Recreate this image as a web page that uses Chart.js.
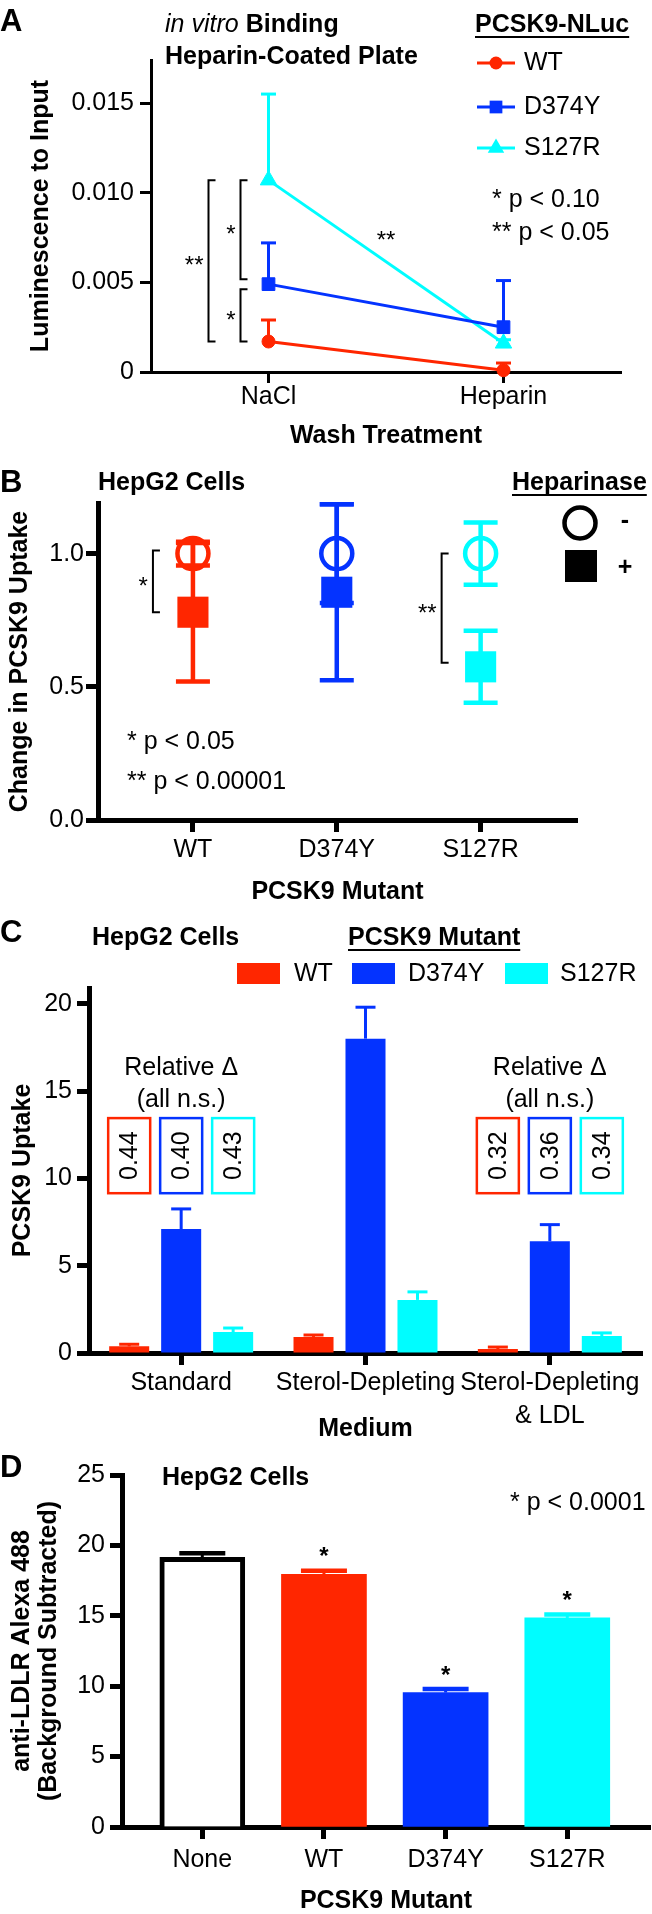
<!DOCTYPE html>
<html>
<head>
<meta charset="utf-8">
<script src="https://cdn.jsdelivr.net/npm/chart.js@4.4.1/dist/chart.umd.min.js"></script>
<style>
  body { margin: 0; background: #fff; }
  #wrap { position: relative; width: 652px; height: 1914px; }
  canvas { position: absolute; left: 0; }
</style>
</head>
<body>
<div id="wrap">
  <canvas id="cA" width="652" height="460" style="top:0px"></canvas>
  <canvas id="cB" width="652" height="455" style="top:460px"></canvas>
  <canvas id="cC" width="652" height="535" style="top:915px"></canvas>
  <canvas id="cD" width="652" height="464" style="top:1450px"></canvas>
</div>
<script>
// ---- data: panel A (in vitro binding)
const washTreatments = ['NaCl', 'Heparin'];
const mutants = ['WT', 'D374Y', 'S127R'];
const bindingWT = [0.0017, 0.0001];
const bindingD374Y = [0.0049, 0.0025];
const bindingS127R = [0.0107, 0.0016];
const bindingWTErr = [0.0012, 0.0004];
const bindingD374YErr = [0.0023, 0.0026];
const bindingS127RErr = [0.0048, 0.0002];
const bindingTicks = [0, 0.005, 0.010, 0.015];

// ---- data: panel B (heparinase)
const uptakeMinus = [1.0, 1.0, 1.0];
const uptakeMinusErr = [0.045, 0.185, 0.117];
const uptakePlus = [0.78, 0.855, 0.575];
const uptakePlusErr = [0.26, 0.33, 0.135];
const uptakeTicks = [0, 0.5, 1.0];

// ---- data: panel C (medium)
const media = ['Standard', 'Sterol-Depleting', ['Sterol-Depleting', '& LDL']];
const mediumWT = [0.38, 0.92, 0.23];
const mediumD374Y = [7.1, 18.0, 6.4];
const mediumS127R = [1.2, 3.04, 0.97];
const mediumWTErr = [0.12, 0.11, 0.11];
const mediumD374YErr = [1.15, 1.8, 0.95];
const mediumS127RErr = [0.23, 0.46, 0.18];
const relativeDelta = [[0.44, 0.40, 0.43], null, [0.32, 0.36, 0.34]];
const mediumTicks = [0, 5, 10, 15, 20];

// ---- data: panel D (LDLR)
const treatments = ['None', 'WT', 'D374Y', 'S127R'];
const ldlr = [19.15, 17.95, 9.55, 14.85];
const ldlrErr = [0.3, 0.25, 0.25, 0.25];
const ldlrSig = ['', '*', '*', '*'];
const ldlrTicks = [0, 5, 10, 15, 20, 25];

const FONT = "'Liberation Sans', Arial, Helvetica, sans-serif";
const RED = '#FF2600', BLUE = '#0433FF', CYAN = '#00FDFF';
const mutantColors = [RED, BLUE, CYAN];

Chart.defaults.font.family = FONT;
Chart.defaults.color = '#000';
Chart.defaults.animation = false;
Chart.defaults.responsive = false;
Chart.defaults.devicePixelRatio = 1;
Chart.defaults.plugins.legend.display = false;
Chart.defaults.plugins.tooltip.enabled = false;

function drawText(ctx, s, x, y, o = {}) {
    ctx.save();
    ctx.font = (o.italic ? 'italic ' : '') + (o.bold ? 'bold ' : '') + (o.size || 25) + 'px ' + FONT;
    ctx.fillStyle = o.color || '#000';
    ctx.textAlign = o.align || 'left';
    ctx.textBaseline = 'middle';
    ctx.fillText(s, x, y);
    const w = ctx.measureText(s).width;
    ctx.restore();
    return w;
}

function underlined(ctx, s, x, y) {
    const w = drawText(ctx, s, x, y, { bold: true });
    ctx.save();
    ctx.strokeStyle = '#000';
    ctx.lineWidth = 2;
    ctx.beginPath();
    ctx.moveTo(x, y + 12);
    ctx.lineTo(x + w, y + 12);
    ctx.stroke();
    ctx.restore();
}

function bracket(ctx, x, y1, y2, label) {
    ctx.save();
    ctx.strokeStyle = '#000';
    ctx.lineWidth = 2;
    ctx.beginPath();
    ctx.moveTo(x + 7, y1);
    ctx.lineTo(x, y1);
    ctx.lineTo(x, y2);
    ctx.lineTo(x + 7, y2);
    ctx.stroke();
    ctx.restore();
    drawText(ctx, label, x - 5, (y1 + y2) / 2 + 6, { align: 'right', size: 24 });
}

function marker(ctx, style, x, y, r, color) {
    ctx.save();
    ctx.fillStyle = color;
    ctx.beginPath();
    if (style === 'circle') {
        ctx.arc(x, y, r, 0, Math.PI * 2);
    } else if (style === 'rect') {
        const s = r * Math.SQRT1_2;
        ctx.rect(x - s, y - s, 2 * s, 2 * s);
    } else {
        ctx.moveTo(x, y - r);
        ctx.lineTo(x + r * 0.866, y + r * 0.5);
        ctx.lineTo(x - r * 0.866, y + r * 0.5);
        ctx.closePath();
    }
    ctx.fill();
    ctx.restore();
}

// error bars from the dataset values, through the y scale
function errorBars(chart, dsIndex, errs, colors, o) {
    const ctx = chart.ctx;
    const ys = chart.scales.y;
    const meta = chart.getDatasetMeta(dsIndex);
    const raw = chart.data.datasets[dsIndex].data;
    ctx.save();
    meta.data.forEach((pt, i) => {
        const e = errs[i];
        if (!e) return;
        const v = typeof raw[i] === 'object' ? raw[i].y : raw[i];
        const x = pt.x;
        const yTop = ys.getPixelForValue(v + e);
        const yBot = ys.getPixelForValue(o.both ? v - e : v);
        ctx.strokeStyle = Array.isArray(colors) ? colors[i] : colors;
        ctx.lineWidth = o.lw;
        ctx.beginPath();
        ctx.moveTo(x, yBot);
        ctx.lineTo(x, yTop);
        ctx.stroke();
        ctx.lineWidth = o.capLw || o.lw;
        ctx.beginPath();
        ctx.moveTo(x - o.cap, yTop);
        ctx.lineTo(x + o.cap, yTop);
        if (o.both) {
            ctx.moveTo(x - o.cap, yBot);
            ctx.lineTo(x + o.cap, yBot);
        }
        ctx.stroke();
    });
    ctx.restore();
}

function axis(o) {
    return {
        border: { display: true, width: o.bw, color: '#000' },
        grid: { display: true, drawOnChartArea: false, drawTicks: true, tickLength: o.tl || 12,
                tickWidth: o.bw, tickColor: '#000', offset: false },
        ticks: { font: { size: 25, lineHeight: o.lh || 1.15 }, padding: o.pad, color: '#000',
                 maxRotation: 0, autoSkip: false },
        title: { display: true, text: o.title, color: '#000',
                 font: { size: 25, weight: 'bold', lineHeight: o.tlh || 1 },
                 padding: o.tpad }
    };
}

// ---------------- Panel A
const xA = axis({ bw: 3, tl: 11, pad: 0, title: 'Wash Treatment', tpad: { top: 0, bottom: 11 } });
xA.type = 'category';
xA.offset = true;
xA.afterFit = (s) => { s.height = 88; };
const yA = axis({ bw: 3, tl: 11, pad: 6, title: 'Luminescence to Input', tpad: { top: 29, bottom: 0 } });
yA.min = 0;
yA.max = 0.0174;
yA.afterFit = (s) => { s.width = 151; };
yA.afterBuildTicks = (s) => { s.ticks = bindingTicks.map(v => ({ value: v })); };
yA.ticks.callback = (v) => (v === 0 ? '0' : v.toFixed(3));

const pointStylesA = ['circle', 'rect', 'triangle'];
const pointRadiiA = [6.5, 9, 9.5];

new Chart(document.getElementById('cA'), {
    type: 'line',
    data: {
        labels: washTreatments,
        datasets: [bindingWT, bindingD374Y, bindingS127R].map((d, i) => ({
            label: mutants[i],
            data: d,
            borderColor: mutantColors[i],
            backgroundColor: mutantColors[i],
            pointBackgroundColor: mutantColors[i],
            pointBorderColor: mutantColors[i],
            pointStyle: pointStylesA[i],
            pointRadius: pointRadiiA[i],
            pointBorderWidth: 1,
            borderWidth: 3,
            clip: false
        }))
    },
    options: {
        layout: { padding: { left: 0, right: 31, top: 60, bottom: 0 } },
        scales: { x: xA, y: yA }
    },
    plugins: [{
        id: 'panelA',
        beforeDatasetsDraw(chart) {
            const errs = [bindingWTErr, bindingD374YErr, bindingS127RErr];
            errs.forEach((e, i) => errorBars(chart, i, e, mutantColors[i], { lw: 3, cap: 7.5 }));
        },
        afterDraw(chart) {
            const ctx = chart.ctx;
            const xs = chart.scales.x, ys = chart.scales.y;
            drawText(ctx, 'A', 0, 22, { bold: true, size: 31 });
            const w = drawText(ctx, 'in vitro', 165, 25, { italic: true });
            drawText(ctx, 'Binding', 165 + w + 7, 25, { bold: true });
            drawText(ctx, 'Heparin-Coated Plate', 165, 57, { bold: true });

            underlined(ctx, 'PCSK9-NLuc', 475, 25);
            const legY = [63, 107, 148];
            mutants.forEach((m, i) => {
                ctx.save();
                ctx.strokeStyle = mutantColors[i];
                ctx.lineWidth = 3;
                ctx.beginPath();
                ctx.moveTo(477, legY[i]);
                ctx.lineTo(515, legY[i]);
                ctx.stroke();
                ctx.restore();
                marker(ctx, pointStylesA[i], 496, legY[i], pointRadiiA[i], mutantColors[i]);
                drawText(ctx, m, 524, legY[i]);
            });
            drawText(ctx, '* p < 0.10', 492, 200);
            drawText(ctx, '** p < 0.05', 492, 233);

            const xN = xs.getPixelForValue(0), xH = xs.getPixelForValue(1);
            const yS = ys.getPixelForValue(bindingS127R[0]);
            const yD = ys.getPixelForValue(bindingD374Y[0]);
            const yW = ys.getPixelForValue(bindingWT[0]);
            bracket(ctx, xN - 60, yS, yW, '**');
            bracket(ctx, xN - 28, yS, yD - 5, '*');
            bracket(ctx, xN - 28, yD + 5, yW, '*');
            const midY = (yS + ys.getPixelForValue(bindingS127R[1])) / 2;
            drawText(ctx, '**', (xN + xH) / 2, midY - 20, { align: 'center', size: 24 });
        }
    }]
});

// ---------------- Panel B
const xB = axis({ bw: 5, pad: 4, title: 'PCSK9 Mutant', tpad: { top: 0, bottom: 10 } });
xB.type = 'linear';
xB.min = -0.66;
xB.max = 2.67;
xB.afterFit = (s) => { s.height = 95; };
xB.afterBuildTicks = (s) => { s.ticks = mutants.map((m, i) => ({ value: i })); };
xB.ticks.callback = (v) => mutants[Math.round(v)];
const yB = axis({ bw: 5, pad: 2, title: 'Change in PCSK9 Uptake', tpad: { top: 8, bottom: 0 } });
yB.min = 0;
yB.max = 1.19;
yB.afterFit = (s) => { s.width = 98; };
yB.afterBuildTicks = (s) => { s.ticks = uptakeTicks.map(v => ({ value: v })); };
yB.ticks.callback = (v) => v.toFixed(1);

new Chart(document.getElementById('cB'), {
    type: 'line',
    data: {
        datasets: [
            {
                label: '-',
                data: uptakeMinus.map((v, i) => ({ x: i, y: v })),
                showLine: false,
                pointStyle: 'circle',
                pointRadius: 15.5,
                pointBorderWidth: 4.5,
                pointBorderColor: mutantColors,
                pointBackgroundColor: 'rgba(0,0,0,0)',
                clip: false
            },
            {
                label: '+',
                data: uptakePlus.map((v, i) => ({ x: i, y: v })),
                showLine: false,
                pointStyle: 'rect',
                pointRadius: 22,
                pointBorderWidth: 0,
                pointBackgroundColor: mutantColors,
                clip: false
            }
        ]
    },
    options: {
        layout: { padding: { left: 0, right: 75, top: 43, bottom: 0 } },
        scales: { x: xB, y: yB }
    },
    plugins: [{
        id: 'panelB',
        beforeDatasetsDraw(chart) {
            errorBars(chart, 0, uptakeMinusErr, mutantColors, { lw: 4.5, cap: 17, both: true });
            errorBars(chart, 1, uptakePlusErr, mutantColors, { lw: 4.5, cap: 17, both: true });
        },
        afterDraw(chart) {
            const ctx = chart.ctx;
            const xs = chart.scales.x, ys = chart.scales.y;
            drawText(ctx, 'B', 0, 23, { bold: true, size: 31 });
            drawText(ctx, 'HepG2 Cells', 98, 23, { bold: true });
            underlined(ctx, 'Heparinase', 512, 23);

            ctx.save();
            ctx.strokeStyle = '#000';
            ctx.lineWidth = 4.5;
            ctx.beginPath();
            ctx.arc(580, 63, 15.5, 0, Math.PI * 2);
            ctx.stroke();
            ctx.fillStyle = '#000';
            ctx.fillRect(565, 90, 32, 32);
            ctx.restore();
            drawText(ctx, '-', 625, 61, { bold: true, align: 'center' });
            drawText(ctx, '+', 625, 108, { bold: true, align: 'center' });

            const yMinusWT = ys.getPixelForValue(uptakeMinus[0]);
            const yPlusWT = ys.getPixelForValue(uptakePlus[0]);
            bracket(ctx, xs.getPixelForValue(0) - 40, yMinusWT - 3, yPlusWT, '*');
            const yMinusS = ys.getPixelForValue(uptakeMinus[2]);
            const yPlusS = ys.getPixelForValue(uptakePlus[2]);
            bracket(ctx, xs.getPixelForValue(2) - 39, yMinusS, yPlusS - 4, '**');

            drawText(ctx, '* p < 0.05', 127, 282);
            drawText(ctx, '** p < 0.00001', 127, 322);
        }
    }]
});

// ---------------- Panel C
const xC = axis({ bw: 5, pad: 2, lh: 1.3, title: 'Medium', tpad: { top: 0, bottom: 8 } });
xC.type = 'category';
xC.offset = true;
xC.afterFit = (s) => { s.height = 97; };
const yC = axis({ bw: 5, pad: 5, title: 'PCSK9 Uptake', tpad: { top: 11, bottom: 0 } });
yC.min = 0;
yC.max = 20.9;
yC.afterFit = (s) => { s.width = 89; };
yC.afterBuildTicks = (s) => { s.ticks = mediumTicks.map(v => ({ value: v })); };

new Chart(document.getElementById('cC'), {
    type: 'bar',
    data: {
        labels: media,
        datasets: [mediumWT, mediumD374Y, mediumS127R].map((d, i) => ({
            label: mutants[i],
            data: d,
            backgroundColor: mutantColors[i],
            borderWidth: 0,
            categoryPercentage: 0.846,
            barPercentage: 0.77
        }))
    },
    options: {
        layout: { padding: { left: 0, right: 10, top: 73, bottom: 0 } },
        scales: { x: xC, y: yC }
    },
    plugins: [{
        id: 'panelC',
        afterDatasetsDraw(chart) {
            const errs = [mediumWTErr, mediumD374YErr, mediumS127RErr];
            errs.forEach((e, i) => errorBars(chart, i, e, mutantColors[i], { lw: 3, cap: 10 }));
        },
        afterDraw(chart) {
            const ctx = chart.ctx;
            const xs = chart.scales.x, ys = chart.scales.y;
            drawText(ctx, 'C', 0, 18, { bold: true, size: 31 });
            drawText(ctx, 'HepG2 Cells', 92, 23, { bold: true });
            underlined(ctx, 'PCSK9 Mutant', 348, 23);

            const boxX = [237, 352, 505];
            const textX = [294, 408, 560];
            mutants.forEach((m, i) => {
                ctx.fillStyle = mutantColors[i];
                ctx.fillRect(boxX[i], 48, 43, 21);
                drawText(ctx, m, textX[i], 59);
            });

            const yTop = ys.getPixelForValue(13.45), yBot = ys.getPixelForValue(9.15);
            relativeDelta.forEach((vals, gi) => {
                if (!vals) return;
                const cx = xs.getPixelForValue(gi);
                drawText(ctx, 'Relative Δ', cx, 153, { align: 'center' });
                drawText(ctx, '(all n.s.)', cx, 185, { align: 'center' });
                vals.forEach((v, di) => {
                    const bar = chart.getDatasetMeta(di).data[gi];
                    ctx.save();
                    ctx.strokeStyle = mutantColors[di];
                    ctx.lineWidth = 2.5;
                    ctx.strokeRect(bar.x - 21, yTop, 42, yBot - yTop);
                    ctx.translate(bar.x + 1, (yTop + yBot) / 2);
                    ctx.rotate(-Math.PI / 2);
                    drawText(ctx, v.toFixed(2), 0, 0, { align: 'center' });
                    ctx.restore();
                });
            });
        }
    }]
});

// ---------------- Panel D
const xD = axis({ bw: 5, pad: 7, title: 'PCSK9 Mutant', tpad: { top: 0, bottom: 0 } });
xD.type = 'linear';
xD.min = -0.66;
xD.max = 3.68;
xD.offset = false;
xD.afterFit = (s) => { s.height = 87; };
xD.afterBuildTicks = (s) => { s.ticks = treatments.map((t, i) => ({ value: i })); };
xD.ticks.callback = (v) => treatments[Math.round(v)];
const yD = axis({ bw: 5, pad: 5, title: ['anti-LDLR Alexa 488', '(Background Subtracted)'],
                  tlh: 1.08, tpad: { top: 9, bottom: 0 } });
yD.min = 0;
yD.max = 25;
yD.afterFit = (s) => { s.width = 122; };
yD.afterBuildTicks = (s) => { s.ticks = ldlrTicks.map(v => ({ value: v })); };

const ldlrColors = ['#FFFFFF', RED, BLUE, CYAN];
const ldlrErrColors = ['#000000', RED, BLUE, CYAN];

new Chart(document.getElementById('cD'), {
    type: 'bar',
    data: {
        datasets: [{
            label: 'LDLR',
            data: ldlr.map((v, i) => ({ x: i, y: v })),
            backgroundColor: ldlrColors,
            borderColor: '#000',
            borderWidth: [5, 0, 0, 0],
            barThickness: 85
        }]
    },
    options: {
        layout: { padding: { left: 0, right: 2, top: 25, bottom: 0 } },
        scales: { x: xD, y: yD }
    },
    plugins: [{
        id: 'panelD',
        afterDatasetsDraw(chart) {
            errorBars(chart, 0, ldlrErr, ldlrErrColors, { lw: 3, capLw: 4.5, cap: 23 });
        },
        afterDraw(chart) {
            const ctx = chart.ctx;
            const ys = chart.scales.y;
            drawText(ctx, 'D', 0, 18, { bold: true, size: 31 });
            drawText(ctx, 'HepG2 Cells', 162, 28, { bold: true });
            drawText(ctx, '* p < 0.0001', 510, 53);
            const meta = chart.getDatasetMeta(0);
            ldlrSig.forEach((s, i) => {
                if (!s) return;
                const y = ys.getPixelForValue(ldlr[i] + ldlrErr[i]) - 13;
                drawText(ctx, s, meta.data[i].x, y, { align: 'center', bold: true, size: 24 });
            });
        }
    }]
});
</script>
</body>
</html>
